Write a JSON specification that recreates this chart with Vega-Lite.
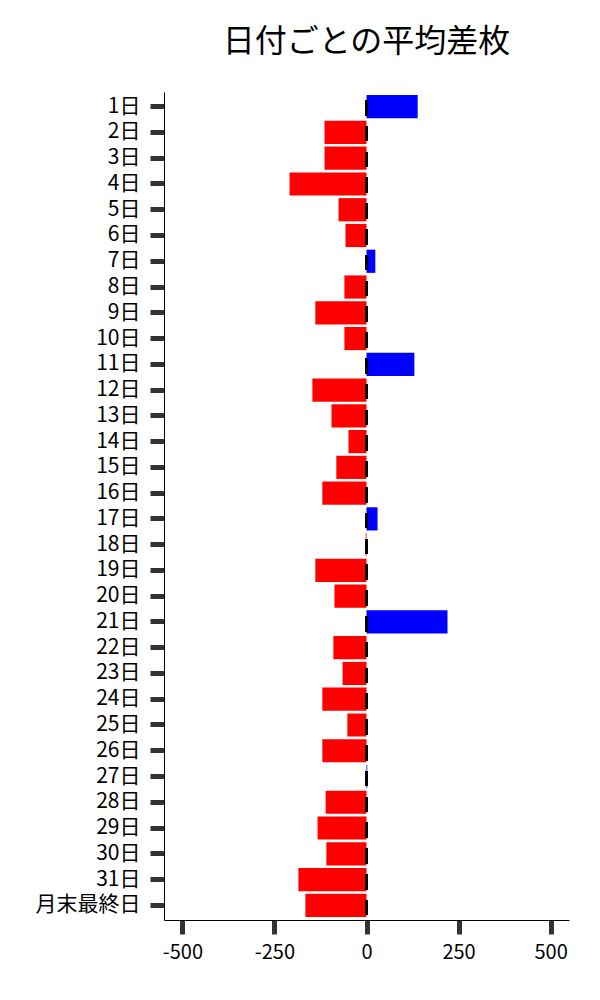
{
  "$schema": "https://vega.github.io/schema/vega-lite/v6.json",
  "autosize": "none",
  "width": 405,
  "height": 828,
  "padding": {"left": 164, "top": 92, "right": 31, "bottom": 80},
  "background": "white",
  "title": {
    "text": "日付ごとの平均差枚",
    "font": "Noto Sans CJK JP",
    "fontSize": 32,
    "fontWeight": "normal",
    "color": "black",
    "offset": 32
  },
  "data": {
    "values": [
      {"day": "1日", "diff": 139},
      {"day": "2日", "diff": -114},
      {"day": "3日", "diff": -114},
      {"day": "4日", "diff": -209},
      {"day": "5日", "diff": -76},
      {"day": "6日", "diff": -57},
      {"day": "7日", "diff": 24},
      {"day": "8日", "diff": -60},
      {"day": "9日", "diff": -139},
      {"day": "10日", "diff": -60},
      {"day": "11日", "diff": 130},
      {"day": "12日", "diff": -147},
      {"day": "13日", "diff": -95},
      {"day": "14日", "diff": -49},
      {"day": "15日", "diff": -82},
      {"day": "16日", "diff": -120},
      {"day": "17日", "diff": 30},
      {"day": "18日", "diff": -2},
      {"day": "19日", "diff": -139},
      {"day": "20日", "diff": -87},
      {"day": "21日", "diff": 220},
      {"day": "22日", "diff": -90},
      {"day": "23日", "diff": -65},
      {"day": "24日", "diff": -120},
      {"day": "25日", "diff": -52},
      {"day": "26日", "diff": -120},
      {"day": "27日", "diff": 2},
      {"day": "28日", "diff": -111},
      {"day": "29日", "diff": -133},
      {"day": "30日", "diff": -109},
      {"day": "31日", "diff": -185},
      {"day": "月末最終日", "diff": -166}
    ]
  },
  "layer": [
    {
      "mark": {"type": "bar"},
      "encoding": {
        "y": {
          "field": "day",
          "type": "nominal",
          "sort": null,
          "scale": {"paddingInner": 0.1, "paddingOuter": 0.12},
          "axis": {"title": null, "labelLineHeight": 20}
        },
        "x": {
          "field": "diff",
          "type": "quantitative",
          "scale": {"domain": [-550, 550], "nice": false},
          "axis": {
            "title": null,
            "values": [-500, -250, 0, 250, 500],
            "labelExpr": "datum.value + ''",
            "grid": false
          }
        },
        "color": {
          "condition": {"test": "datum.diff >= 0", "value": "#0000ff"},
          "value": "#ff0000"
        }
      }
    },
    {
      "mark": {
        "type": "rule",
        "color": "black",
        "strokeWidth": 2,
        "strokeDash": [15, 10.8],
        "strokeDashOffset": 17.5
      },
      "encoding": {
        "x": {"datum": 0}
      }
    }
  ],
  "config": {
    "view": {"stroke": null},
    "axis": {
      "labelFont": "Noto Sans CJK JP",
      "labelFontSize": 21,
      "labelColor": "black",
      "domainColor": "black",
      "domainWidth": 1,
      "tickColor": "#333333",
      "tickWidth": 5,
      "tickSize": 14,
      "labelPadding": 10,
      "grid": false
    },
    "axisX": {"labelPadding": 8, "labelFontSize": 20}
  }
}
